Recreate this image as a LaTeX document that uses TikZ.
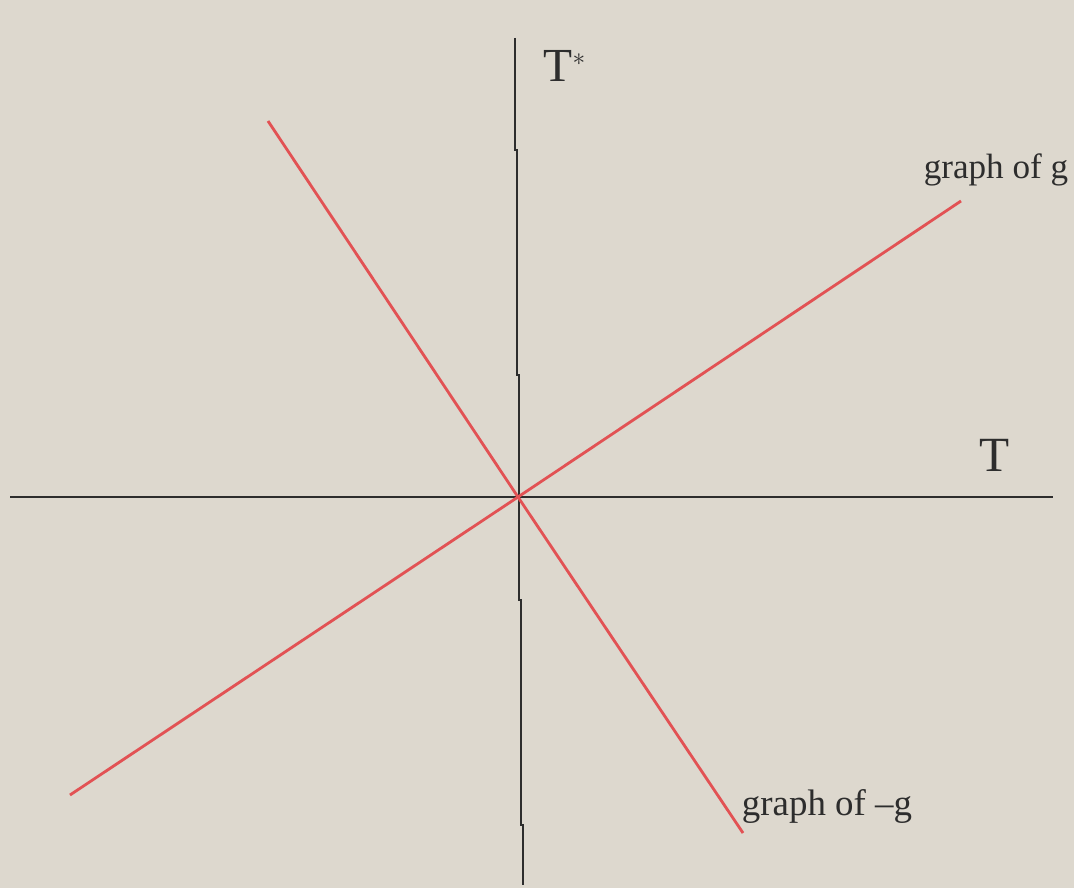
\documentclass[tikz,border=0pt]{standalone}
\usepackage{fontspec}
\setmainfont{Liberation Serif}
\definecolor{paper}{RGB}{221,216,206}
\definecolor{gline}{RGB}{226,82,84}
\definecolor{ink}{RGB}{45,45,45}
\begin{document}
\begin{tikzpicture}[x=0.02cm, y=-0.02cm]
\fill[paper] (0, 0) rectangle (1074, 888);
\useasboundingbox (0, 0) rectangle (1074, 888);
\coordinate (O) at (518, 497);
% axes
\draw[ink, line width=0.9pt] (10, 497) -- (1053, 497);
\draw[ink, line width=0.9pt] (515, 38) -- (515, 150) -- (517, 150) -- (517, 375) -- (519, 375)
  -- (519, 600) -- (521, 600) -- (521, 825) -- (523, 825) -- (523, 885);
\node[ink, font=\fontsize{27}{32}\selectfont] (tstar) at (565, 66) {T$^{\scriptscriptstyle *}$};
\node[ink, font=\fontsize{28}{32}\selectfont] (t) at (995, 455) {T};
% graphs
\coordinate (g1) at (70, 795);
\coordinate (g2) at (961, 201);
\coordinate (m1) at (268, 121);
\coordinate (m2) at (743, 833);
\draw[gline, line width=1.6pt] (g1) -- (O) -- (g2);
\draw[gline, line width=1.6pt] (m1) -- (O) -- (m2);
\node[ink, font=\fontsize{20}{24}\selectfont] (glab) at (996, 170) {graph of g};
\node[ink, font=\fontsize{21}{25}\selectfont] (mlab) at (827, 806) {graph of –g};
\end{tikzpicture}
\end{document}
